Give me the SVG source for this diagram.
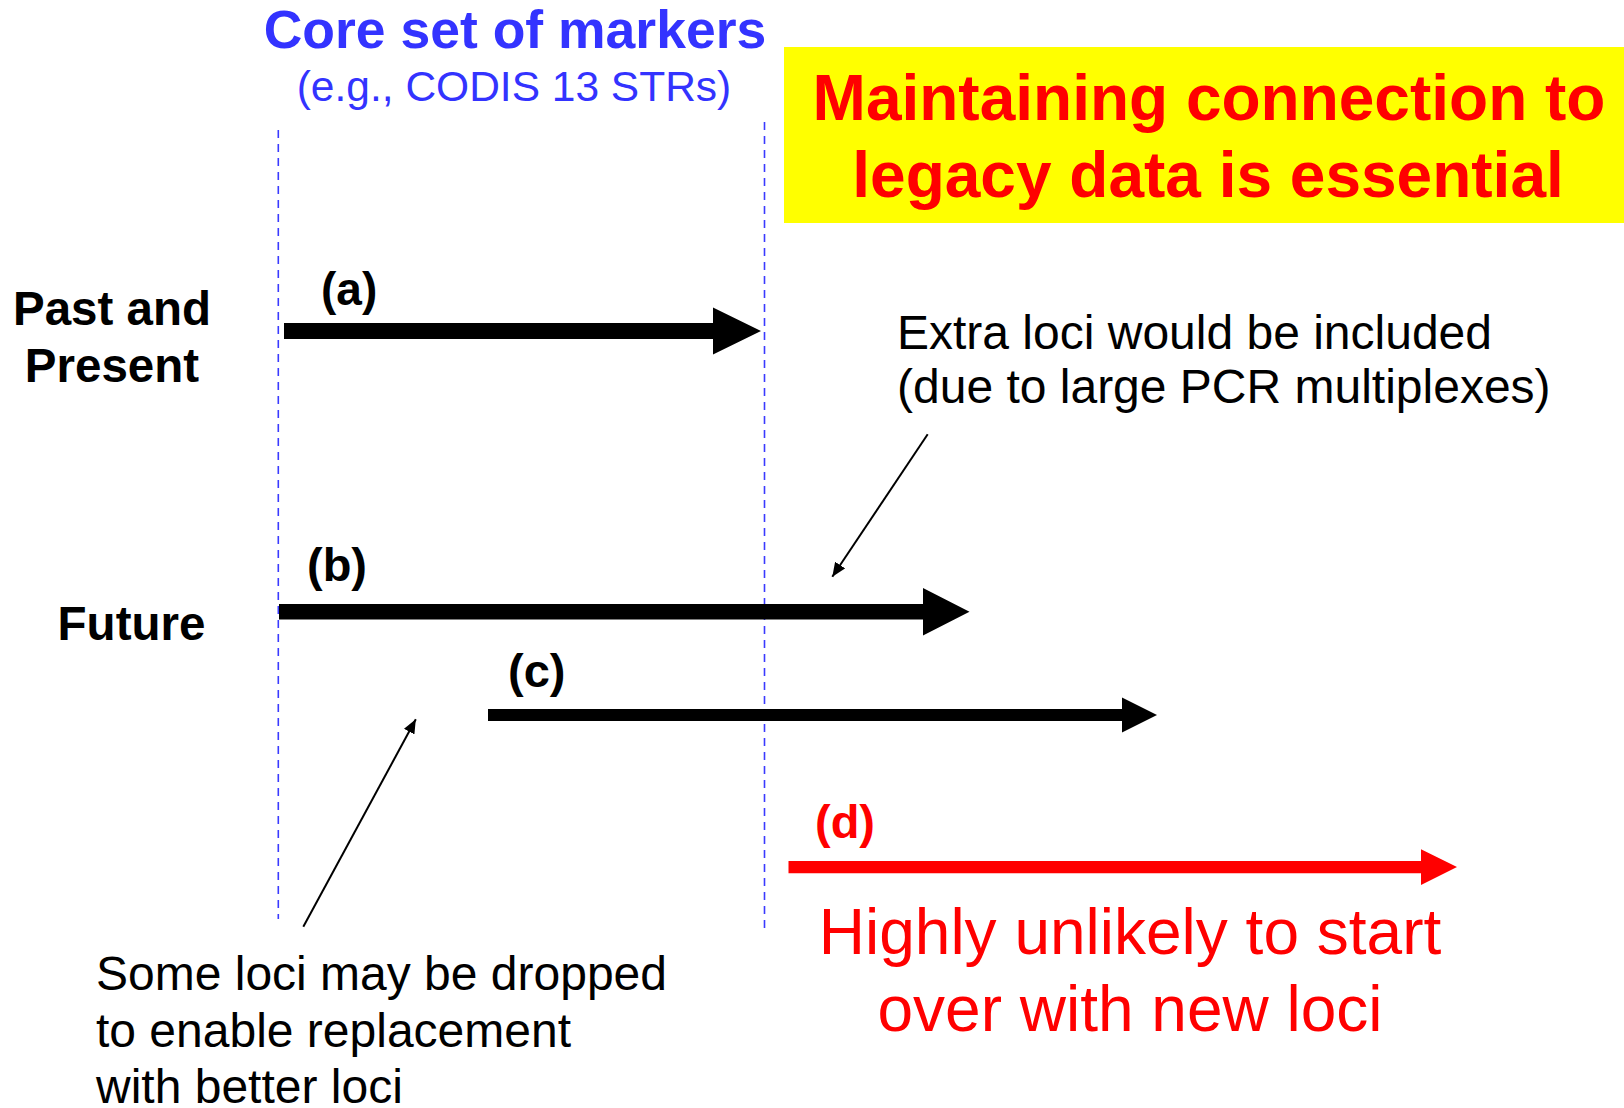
<svg xmlns="http://www.w3.org/2000/svg" width="1624" height="1108" viewBox="0 0 1624 1108">
  <style>
    text { font-family: "Liberation Sans", Arial, sans-serif; }
    .b { font-weight: bold; }
    .blue { fill: #3333ff; }
    .red { fill: #ff0000; }
    .blk { fill: #000000; }
    .guide { stroke: #3a3aff; stroke-width: 1.6; stroke-dasharray: 8 6; fill: none; }
    .pointer { stroke: #000000; stroke-width: 2; fill: none; marker-end: url(#tip); }
  </style>
  <defs>
    <marker id="tip" viewBox="0 0 14 12" refX="14" refY="6" markerWidth="14" markerHeight="12" markerUnits="userSpaceOnUse" orient="auto">
      <path d="M0,0 L14,6 L0,12 z" fill="#000000"/>
    </marker>
  </defs>

  <rect width="1624" height="1108" fill="#ffffff"/>

  <!-- core marker set header -->
  <g id="core-set">
    <text class="b blue" x="515" y="47.5" font-size="53.5" text-anchor="middle">Core set of markers</text>
    <text class="blue" x="514" y="101" font-size="42.5" text-anchor="middle">(e.g., CODIS 13 STRs)</text>
  </g>

  <!-- boundaries of the core set -->
  <g id="core-bounds">
    <line class="guide" x1="278.3" y1="130" x2="278.3" y2="919"/>
    <line class="guide" x1="764.5" y1="122" x2="764.5" y2="928"/>
  </g>

  <!-- legacy banner -->
  <g id="legacy-banner">
    <rect x="784" y="47" width="840" height="176" fill="#ffff00"/>
    <text class="b red" x="1209" y="120" font-size="64" text-anchor="middle">Maintaining connection to</text>
    <text class="b red" x="1208" y="197" font-size="64" text-anchor="middle">legacy data is essential</text>
  </g>

  <!-- row labels -->
  <g id="past-present">
    <text class="b blk" x="112" y="325" font-size="47.5" text-anchor="middle">Past and</text>
    <text class="b blk" x="112" y="381.5" font-size="47.5" text-anchor="middle">Present</text>
  </g>
  <g id="future">
    <text class="b blk" x="131.5" y="640" font-size="47.5" text-anchor="middle">Future</text>
  </g>

  <!-- marker set spans -->
  <g id="span-a">
    <text class="b blk" x="321" y="305" font-size="46">(a)</text>
    <path d="M284,323 H713 V307.5 L761,331 L713,354.5 V339 H284 Z" fill="#000000"/>
  </g>
  <g id="span-b">
    <text class="b blk" x="307" y="580.5" font-size="47">(b)</text>
    <path d="M279,604 H923 V588 L969.5,611.8 L923,635.6 V619.5 H279 Z" fill="#000000"/>
  </g>
  <g id="span-c">
    <text class="b blk" x="508" y="686.5" font-size="47">(c)</text>
    <path d="M488,709 H1122 V697.5 L1157,715 L1122,732.5 V721 H488 Z" fill="#000000"/>
  </g>
  <g id="span-d">
    <text class="b red" x="815" y="838.3" font-size="47">(d)</text>
    <path d="M788.5,861 H1421 V849.3 L1457,867 L1421,885 V873.3 H788.5 Z" fill="#ff0000"/>
  </g>

  <!-- notes -->
  <g id="note-extra">
    <text class="blk" x="897" y="349" font-size="48">Extra loci would be included</text>
    <text class="blk" x="897" y="403" font-size="48">(due to large PCR multiplexes)</text>
  </g>
  <g id="note-dropped">
    <text class="blk" x="96" y="990" font-size="48">Some loci may be dropped</text>
    <text class="blk" x="96" y="1047" font-size="48">to enable replacement</text>
    <text class="blk" x="96" y="1103" font-size="48">with better loci</text>
  </g>
  <g id="note-unlikely">
    <text class="red" x="1130" y="954" font-size="64" text-anchor="middle">Highly unlikely to start</text>
    <text class="red" x="1130" y="1030.5" font-size="64" text-anchor="middle">over with new loci</text>
  </g>

  <!-- pointers from notes -->
  <g id="connectors">
    <line class="pointer" x1="927.7" y1="434.3" x2="832.3" y2="576.7"/>
    <line class="pointer" x1="303.3" y1="926.7" x2="415.8" y2="719.3"/>
  </g>
</svg>
